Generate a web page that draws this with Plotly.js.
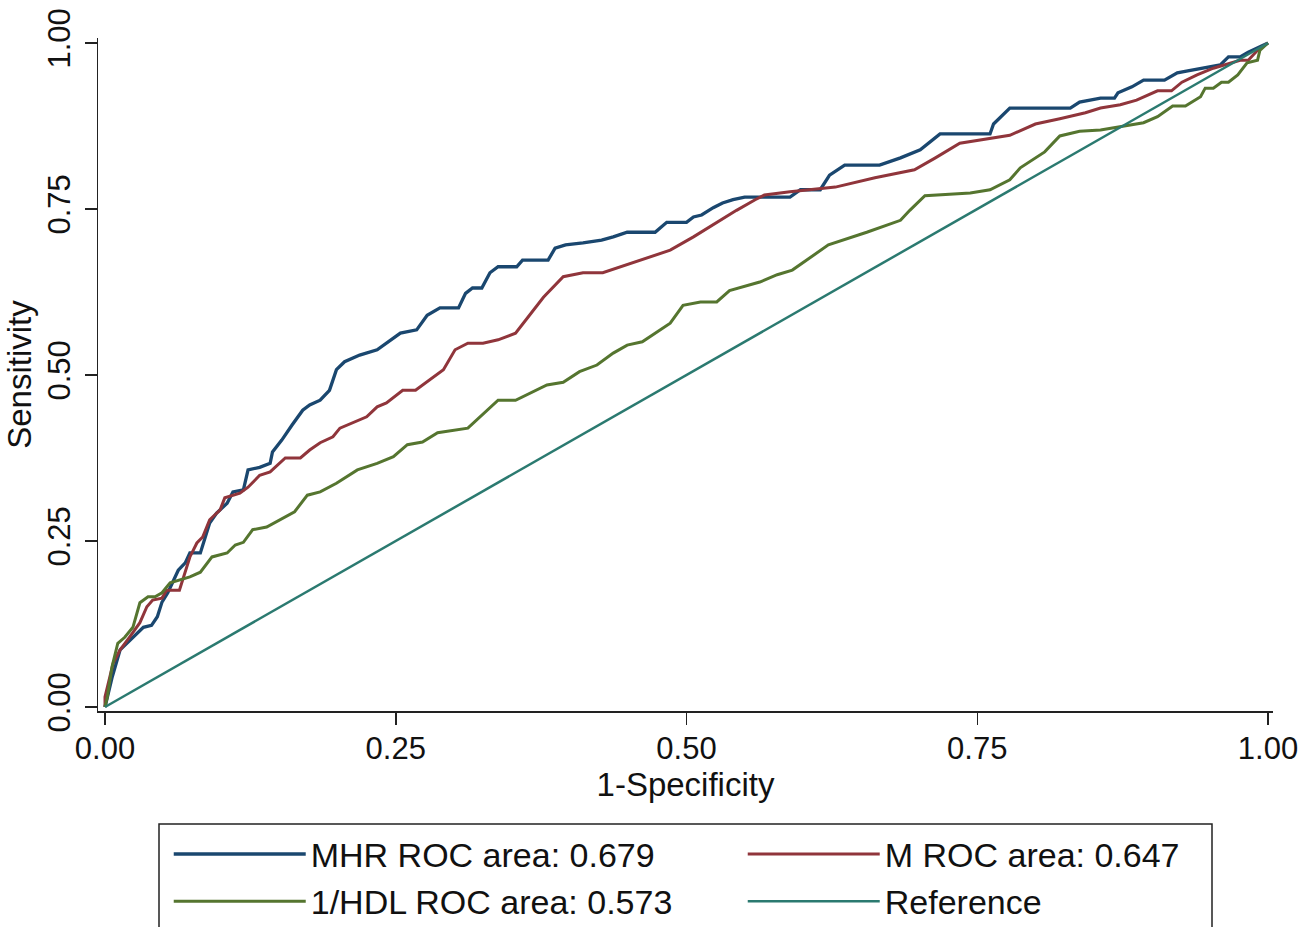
<!DOCTYPE html>
<html>
<head>
<meta charset="utf-8">
<script src="https://cdn.plot.ly/plotly-3.0.1.min.js"></script>
<style>html,body{margin:0;padding:0;background:#fff;}#chart{width:1311px;height:927px;}</style>
</head>
<body>
<div id="chart"></div>
<script>
// MHR ROC curve (1-Specificity, Sensitivity)
const mhrX = [0,0.002,0.006,0.013,0.024,0.033,0.040,0.045,0.049,0.054,0.063,0.069,0.073,0.082,0.090,0.096,0.105,0.110,0.119,0.123,0.133,0.142,0.144,0.152,0.161,0.170,0.176,0.185,0.193,0.199,0.206,0.219,0.234,0.254,0.268,0.277,0.288,0.304,0.310,0.316,0.324,0.331,0.338,0.354,0.359,0.381,0.387,0.396,0.411,0.427,0.437,0.449,0.473,0.480,0.483,0.500,0.506,0.513,0.523,0.531,0.540,0.550,0.589,0.598,0.615,0.623,0.636,0.666,0.684,0.701,0.718,0.761,0.764,0.778,0.830,0.838,0.856,0.868,0.871,0.883,0.893,0.911,0.916,0.922,0.931,0.944,0.948,0.959,0.966,0.976,0.983,0.991,1];
const mhrY = [0,0.015,0.044,0.086,0.105,0.120,0.123,0.136,0.158,0.172,0.206,0.217,0.232,0.232,0.277,0.292,0.307,0.324,0.327,0.357,0.361,0.367,0.384,0.402,0.425,0.447,0.455,0.462,0.477,0.508,0.520,0.530,0.538,0.563,0.568,0.590,0.601,0.601,0.623,0.631,0.631,0.654,0.663,0.663,0.673,0.673,0.691,0.696,0.699,0.703,0.708,0.715,0.715,0.726,0.730,0.730,0.738,0.741,0.752,0.759,0.764,0.768,0.768,0.779,0.779,0.801,0.816,0.816,0.827,0.839,0.863,0.863,0.878,0.902,0.902,0.911,0.917,0.917,0.925,0.934,0.944,0.944,0.949,0.955,0.958,0.962,0.964,0.967,0.979,0.979,0.986,0.992,1];

// M ROC curve
const mX = [0,0,0.007,0.013,0.021,0.030,0.036,0.041,0.049,0.053,0.064,0.073,0.079,0.084,0.090,0.099,0.103,0.116,0.123,0.133,0.142,0.155,0.168,0.176,0.185,0.196,0.202,0.213,0.225,0.234,0.242,0.256,0.267,0.291,0.301,0.312,0.325,0.338,0.353,0.365,0.377,0.394,0.411,0.428,0.449,0.466,0.486,0.506,0.526,0.543,0.559,0.567,0.589,0.628,0.662,0.696,0.714,0.735,0.778,0.800,0.821,0.843,0.856,0.873,0.887,0.905,0.917,0.926,0.939,0.953,0.976,0.983,0.991,1];
const mY = [0,0.015,0.066,0.086,0.105,0.127,0.151,0.161,0.164,0.176,0.176,0.226,0.247,0.256,0.282,0.297,0.315,0.322,0.331,0.349,0.354,0.375,0.375,0.387,0.398,0.407,0.420,0.428,0.437,0.452,0.458,0.477,0.477,0.508,0.538,0.548,0.548,0.553,0.563,0.590,0.617,0.648,0.654,0.654,0.666,0.676,0.688,0.708,0.730,0.748,0.764,0.771,0.776,0.783,0.797,0.809,0.827,0.849,0.861,0.878,0.886,0.895,0.902,0.907,0.914,0.928,0.928,0.941,0.952,0.962,0.974,0.974,0.989,1];

// 1/HDL ROC curve
const hdlX = [0,0.002,0.006,0.011,0.017,0.024,0.030,0.037,0.043,0.049,0.056,0.064,0.073,0.082,0.092,0.105,0.112,0.119,0.127,0.139,0.150,0.163,0.174,0.185,0.199,0.217,0.234,0.248,0.260,0.273,0.286,0.312,0.338,0.353,0.380,0.394,0.408,0.423,0.437,0.449,0.462,0.486,0.497,0.512,0.526,0.537,0.563,0.578,0.591,0.606,0.622,0.655,0.684,0.692,0.705,0.744,0.761,0.778,0.787,0.808,0.821,0.838,0.856,0.893,0.905,0.918,0.929,0.942,0.946,0.953,0.960,0.966,0.974,0.982,0.991,0.993,1];
const hdlY = [0,0.015,0.060,0.096,0.105,0.120,0.157,0.166,0.166,0.172,0.187,0.191,0.196,0.203,0.226,0.232,0.244,0.248,0.267,0.271,0.282,0.294,0.319,0.324,0.337,0.357,0.367,0.377,0.395,0.399,0.413,0.420,0.462,0.462,0.485,0.489,0.505,0.515,0.533,0.545,0.550,0.578,0.605,0.610,0.610,0.627,0.640,0.651,0.658,0.676,0.696,0.715,0.733,0.748,0.770,0.774,0.779,0.794,0.812,0.836,0.860,0.867,0.869,0.880,0.889,0.905,0.905,0.919,0.932,0.932,0.941,0.941,0.952,0.970,0.974,0.989,1];

// Reference diagonal
const refX = [0, 1];
const refY = [0, 1];

const names = ["MHR ROC area: 0.679", "M ROC area: 0.647", "1/HDL ROC area: 0.573", "Reference"];
const colors = ["#1a476f", "#90353b", "#55752f", "#2b7a70"];
const tickVals = [0, 0.25, 0.5, 0.75, 1];
const tickText = ["0.00", "0.25", "0.50", "0.75", "1.00"];

const FONT = "Liberation Sans, Arial, sans-serif";

const traces = [
  {x: mhrX, y: mhrY, name: names[0], line: {color: colors[0], width: 3.3}},
  {x: mX, y: mY, name: names[1], line: {color: colors[1], width: 3}},
  {x: hdlX, y: hdlY, name: names[2], line: {color: colors[2], width: 3}},
  {x: refX, y: refY, name: names[3], line: {color: colors[3], width: 2.5}}
].map(t => Object.assign({type: "scatter", mode: "lines"}, t));

const axisCommon = {
  tickvals: tickVals, ticktext: tickText,
  showgrid: false, zeroline: false,
  showline: true, linecolor: "#222", linewidth: 1.5,
  ticks: "outside", ticklen: 12, tickwidth: 1.5, tickcolor: "#222",
  tickfont: {family: FONT, size: 31, color: "#111"},
  automargin: true, fixedrange: true
};

const layout = {
  width: 1311, height: 927,
  margin: {l: 98, r: 38, t: 38, b: 216, autoexpand: false},
  paper_bgcolor: "#fff", plot_bgcolor: "#fff",
  font: {family: FONT, size: 31, color: "#111"},
  xaxis: Object.assign({}, axisCommon, {
    range: [-0.00602, 1.0043],
    ticklabelstandoff: -3,
    title: {text: "1-Specificity", font: {family: FONT, size: 33, color: "#111"}, standoff: 5}
  }),
  yaxis: Object.assign({}, axisCommon, {
    range: [-0.00602, 1.00753],
    tickangle: -90,
    ticklabelstandoff: 2,
    title: {text: "Sensitivity", font: {family: FONT, size: 33, color: "#111"}, standoff: 0}
  }),
  showlegend: true,
  legend: {
    orientation: "h",
    x: 0.0602, xanchor: "left",
    y: -0.17, yanchor: "top",
    entrywidth: 427, entrywidthmode: "pixels",
    itemwidth: 132,
    borderwidth: 0, bgcolor: "rgba(0,0,0,0)",
    font: {family: FONT, size: 34, color: "#111"},
    traceorder: "normal"
  },
  shapes: [{
    type: "rect", xref: "paper", yref: "paper",
    x0: (159 - 98) / 1175, x1: (1212 - 98) / 1175, y0: (711 - 824) / 673, y1: (711 - 940) / 673,
    line: {color: "#222", width: 1.5}, fillcolor: "rgba(0,0,0,0)"
  }]
};

Plotly.newPlot("chart", traces, layout, {displayModeBar: false, staticPlot: true});
</script>
</body>
</html>
